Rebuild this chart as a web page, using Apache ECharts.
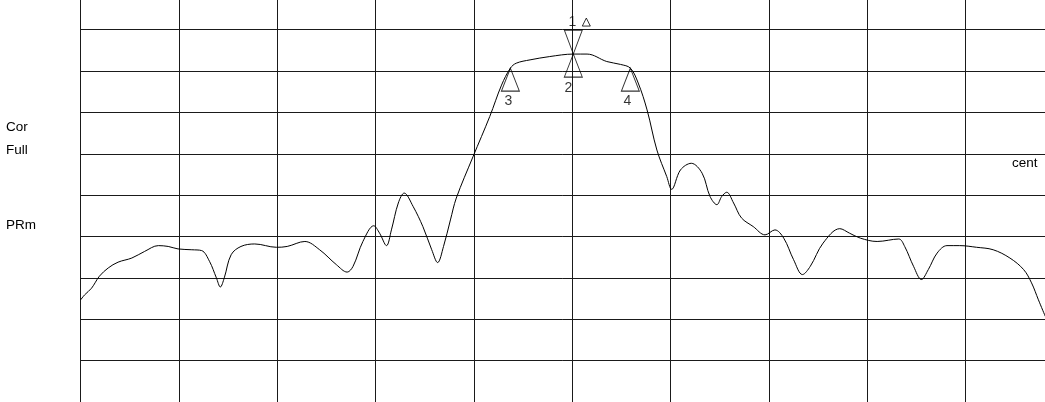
<!DOCTYPE html>
<html>
<head>
<meta charset="utf-8">
<title>Spectrum trace</title>
<script src="https://cdn.jsdelivr.net/npm/echarts@6/dist/echarts.min.js"></script>
<style>
  html, body { margin: 0; padding: 0; background: #ffffff; }
  #chart { width: 1045px; height: 402px; }
</style>
</head>
<body>
<div id="chart"></div>
<script>
// Horizontal position in screen divisions, level in dB
const traceX = [
  0.00, 0.04, 0.11, 0.19, 0.28, 0.38, 0.52, 0.65, 0.79, 0.89,
  0.99, 1.13, 1.23, 1.31, 1.38, 1.42, 1.46, 1.53, 1.63, 1.77,
  1.99, 2.10, 2.28, 2.43, 2.60, 2.71, 2.77, 2.87, 2.98, 3.04,
  3.11, 3.16, 3.23, 3.29, 3.38, 3.48, 3.57, 3.63, 3.69, 3.76,
  3.82, 3.99, 4.16, 4.28, 4.37, 4.43, 4.57, 4.77, 5.01, 5.15,
  5.35, 5.49, 5.59, 5.67, 5.76, 5.86, 5.96, 6.01, 6.10, 6.21,
  6.32, 6.40, 6.47, 6.52, 6.57, 6.64, 6.72, 6.84, 6.96, 7.06,
  7.15, 7.25, 7.34, 7.42, 7.55, 7.72, 7.82, 7.93, 8.10, 8.32,
  8.38, 8.47, 8.55, 8.62, 8.71, 8.81, 8.94, 9.11, 9.28, 9.45,
  9.59, 9.67, 9.74, 9.81
];
const traceDb = [
  -75.3, -74.1, -72.5, -69.6, -67.6, -66.2, -65.2, -63.6, -62.2, -62.4,
  -63.0, -63.2, -63.4, -66.0, -70.0, -72.2, -70.0, -64.4, -62.4, -61.8,
  -62.6, -62.4, -61.2, -63.2, -66.8, -68.6, -67.2, -61.2, -57.4, -59.2,
  -62.2, -58.4, -51.9, -49.5, -52.7, -57.6, -63.2, -66.3, -62.4, -56.0,
  -50.7, -40.7, -31.0, -23.4, -19.3, -18.1, -17.3, -16.5, -15.9, -15.9,
  -17.7, -18.4, -19.3, -22.9, -29.4, -39.1, -45.5, -48.6, -43.9, -42.3,
  -44.7, -50.3, -52.3, -50.3, -49.3, -51.9, -55.5, -57.6, -59.6, -58.4,
  -60.4, -65.6, -69.2, -67.2, -61.6, -58.1, -59.2, -60.4, -61.2, -60.6,
  -62.4, -67.2, -70.4, -68.0, -64.0, -62.2, -62.2, -62.6, -63.2, -65.2,
  -68.0, -71.2, -75.3, -79.3
];

// Visible window of the screen (divisions / dB)
const xMin = 0, xMax = 9.807, xStep = 1;
const yMin = -100, yMax = -2.83, yStep = 10;

// Markers: label and index of the trace sample they sit on
const markerNames = ['2', '3', '4'];
const markerIndex = [48, 44, 52];
// Delta marker 1 shares the reference point of marker 2
const deltaName = '1';
const deltaIndex = 48;

// Side annotations
const sideLabels = ['Cor', 'Full', 'PRm', 'cent'];

const FONT = '"Liberation Sans", Arial, sans-serif';

const tracePoints = traceX.map((x, i) => [x, traceDb[i]]);
const markerPoints = markerIndex.map((k, i) => ({ value: [traceX[k], traceDb[k]], name: markerNames[i] }));
const deltaPoint = [{ value: [traceX[deltaIndex], traceDb[deltaIndex]], name: deltaName }];

// label offsets (px) of each marker number relative to its marker point
const labelOffsets = { '2': [-5, 34], '3': [-2, 33.5], '4': [-3, 33] };

const chart = echarts.init(document.getElementById('chart'), null, { renderer: 'canvas' });

const upTriangle = 'path://M9,0L18,23L0,23Z';
const downTriangle = 'path://M0,0L18,0L9,24Z';
const deltaGlyph = 'path://M4,0L8,8L0,8Z';

const gridLine = { show: true, showMinLine: true, showMaxLine: false, lineStyle: { color: '#1a1a1a', width: 1 } };
const hollow = { color: 'rgba(0,0,0,0)', borderColor: '#000000', borderWidth: 1 };
const sideText = (text, x, y) => ({
  type: 'text', x: x, y: y,
  style: { text: text, fill: '#000', font: '13.5px ' + FONT, verticalAlign: 'middle' }
});

chart.setOption({
  animation: false,
  backgroundColor: '#ffffff',
  grid: { left: 80.7, right: 0, top: 0, bottom: 0 },
  xAxis: {
    type: 'value', min: xMin, max: xMax, interval: xStep,
    axisLine: { show: false }, axisTick: { show: false }, axisLabel: { show: false },
    splitLine: gridLine
  },
  yAxis: {
    type: 'value', min: yMin, max: yMax, interval: yStep,
    axisLine: { show: false }, axisTick: { show: false }, axisLabel: { show: false },
    splitLine: Object.assign({}, gridLine, { showMinLine: false })
  },
  series: [
    {
      name: 'trace', type: 'line', data: tracePoints,
      smooth: 0.35, showSymbol: false, symbol: 'none',
      lineStyle: { color: '#000000', width: 1 },
      z: 3
    },
    {
      name: 'markers', type: 'scatter', data: markerPoints,
      symbol: upTriangle, symbolSize: [18, 23], symbolOffset: [0, 11.5],
      itemStyle: hollow, z: 4
    },
    {
      name: 'delta', type: 'scatter', data: deltaPoint,
      symbol: downTriangle, symbolSize: [18, 24], symbolOffset: [0, -12],
      itemStyle: hollow, z: 4
    },
    {
      name: 'deltaSign', type: 'scatter', data: deltaPoint,
      symbol: deltaGlyph, symbolSize: [8, 8], symbolOffset: [13, -32],
      itemStyle: hollow, z: 4
    },
    {
      name: 'markerLabels', type: 'scatter',
      data: markerPoints.map(p => ({
        value: p.value, name: p.name,
        label: { offset: labelOffsets[p.name] }
      })),
      symbolSize: 1, itemStyle: { color: 'rgba(0,0,0,0)' },
      label: {
        show: true, position: 'inside', formatter: '{b}',
        color: '#000000', fontFamily: FONT, fontSize: 14
      },
      z: 5
    },
    {
      name: 'deltaLabel', type: 'scatter', data: deltaPoint,
      symbolSize: 1, itemStyle: { color: 'rgba(0,0,0,0)' },
      label: {
        show: true, position: 'inside', offset: [-1, -32], formatter: '{b}',
        color: '#000000', fontFamily: FONT, fontSize: 14
      },
      z: 5
    }
  ],
  graphic: [
    sideText(sideLabels[0], 6, 127),
    sideText(sideLabels[1], 6, 150),
    sideText(sideLabels[2], 6, 225),
    sideText(sideLabels[3], 1012, 163)
  ]
});
</script>
</body>
</html>
